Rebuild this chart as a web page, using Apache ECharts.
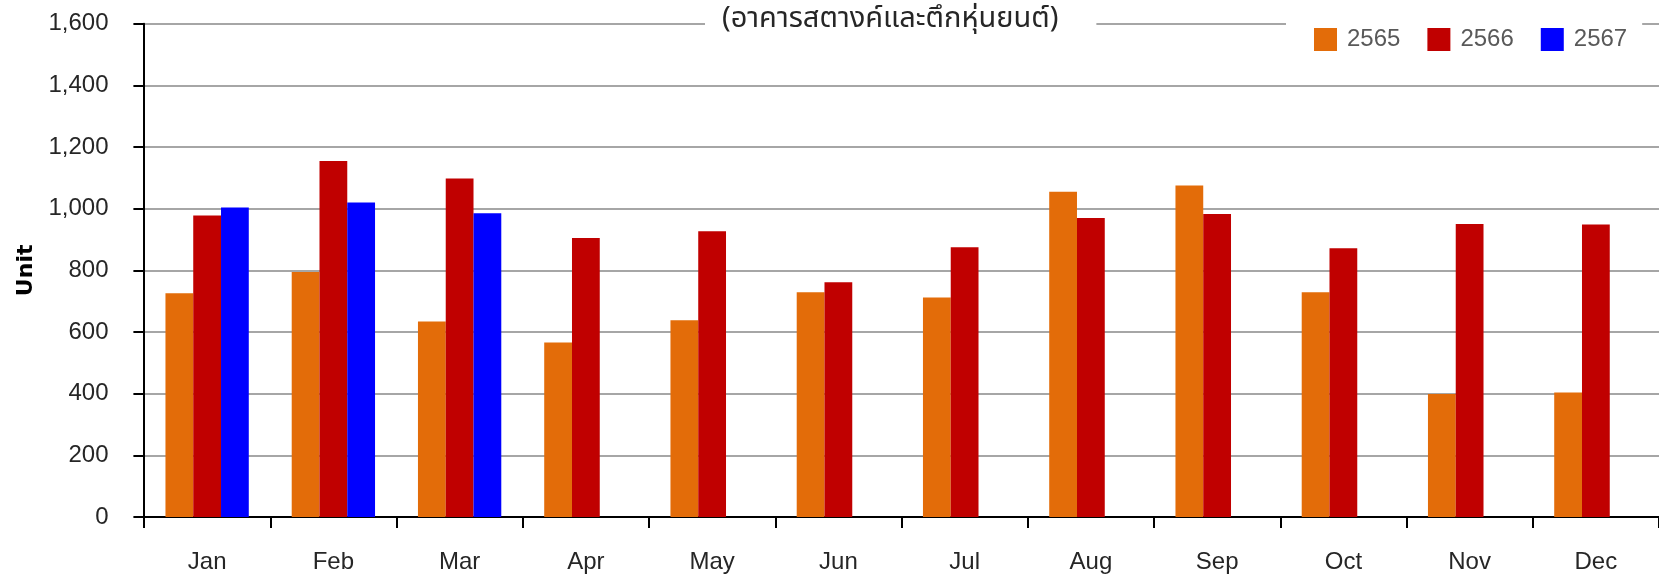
<!DOCTYPE html>
<html>
<head>
<meta charset="utf-8">
<script src="https://cdn.jsdelivr.net/npm/echarts@6/dist/echarts.min.js"></script>
<style>
html,body{margin:0;padding:0;background:#fff;}
#chart{width:1659px;height:579px;}
</style>
</head>
<body>
<div id="chart"></div>
<script>
const categories = ['Jan','Feb','Mar','Apr','May','Jun','Jul','Aug','Sep','Oct','Nov','Dec'];
const seriesNames = ['2565','2566','2567'];
const values2565 = [726, 795, 634, 566, 638, 729, 712, 1055, 1075, 729, 399, 404];
const values2566 = [978, 1155, 1098, 905, 927, 761, 875, 970, 983, 872, 950, 949];
const values2567 = [1004, 1020, 985, null, null, null, null, null, null, null, null, null];
const yTicks = {min: 0, max: 1600, interval: 200};
const titleText = '(อาคารสตางค์และตึกหุ่นยนต์)';
const yName = 'Unit';

const colors = ['#E36C09', '#C00000', '#0000FF'];
const labelFont = "'Liberation Sans', Arial, sans-serif";

const chart = echarts.init(document.getElementById('chart'), null, {renderer: 'canvas'});
chart.setOption({
  animation: false,
  backgroundColor: '#ffffff',
  title: {
    text: titleText,
    left: 705,
    top: 5,
    padding: [2, 38, 4, 17],
    backgroundColor: '#ffffff',
    textStyle: {
      fontFamily: "'Noto Sans Thai', 'Noto Sans', 'DejaVu Sans', sans-serif",
      fontSize: 29,
      fontWeight: 'normal',
      color: '#262626'
    }
  },
  legend: {
    data: seriesNames,
    left: 1286,
    top: 19,
    padding: [4, 15, 4, 28],
    backgroundColor: '#ffffff',
    itemWidth: 23,
    itemHeight: 23,
    itemGap: 27,
    icon: 'rect',
    textStyle: {
      fontFamily: labelFont,
      fontSize: 24,
      color: '#595959',
      lineHeight: 23,
      padding: [0, 0, 10, 5]
    }
  },
  grid: {
    left: 144,
    top: 23.7,
    bottom: 62,
    right: -4.6,
    containLabel: false
  },
  xAxis: {
    type: 'category',
    data: categories,
    axisLine: {show: true, lineStyle: {color: '#000000', width: 2}},
    axisTick: {show: true, length: 11, lineStyle: {color: '#000000', width: 2}},
    axisLabel: {
      margin: 33,
      fontFamily: labelFont,
      fontSize: 24,
      color: '#262626'
    },
    splitLine: {show: false}
  },
  yAxis: {
    type: 'value',
    min: yTicks.min,
    max: yTicks.max,
    interval: yTicks.interval,
    name: yName,
    nameLocation: 'middle',
    nameRotate: 90,
    nameGap: 107,
    nameTextStyle: {
      fontFamily: "'DejaVu Sans', sans-serif",
      fontWeight: 'bold',
      fontSize: 22,
      color: '#000000'
    },
    axisLine: {show: true, lineStyle: {color: '#000000', width: 2}},
    axisTick: {show: true, length: 10.6, lineStyle: {color: '#000000', width: 2}},
    axisLabel: {
      margin: 35.5,
      fontFamily: labelFont,
      fontSize: 24,
      color: '#262626',
      formatter: function (v) { return v.toLocaleString('en-US'); }
    },
    splitLine: {show: true, lineStyle: {color: '#a6a6a6', width: 2}}
  },
  series: [
    {name: seriesNames[0], type: 'bar', data: values2565, itemStyle: {color: colors[0]}, barGap: '0%', barCategoryGap: '34%'},
    {name: seriesNames[1], type: 'bar', data: values2566, itemStyle: {color: colors[1]}, barGap: '0%', barCategoryGap: '34%'},
    {name: seriesNames[2], type: 'bar', data: values2567, itemStyle: {color: colors[2]}, barGap: '0%', barCategoryGap: '34%'}
  ]
});
</script>
</body>
</html>
